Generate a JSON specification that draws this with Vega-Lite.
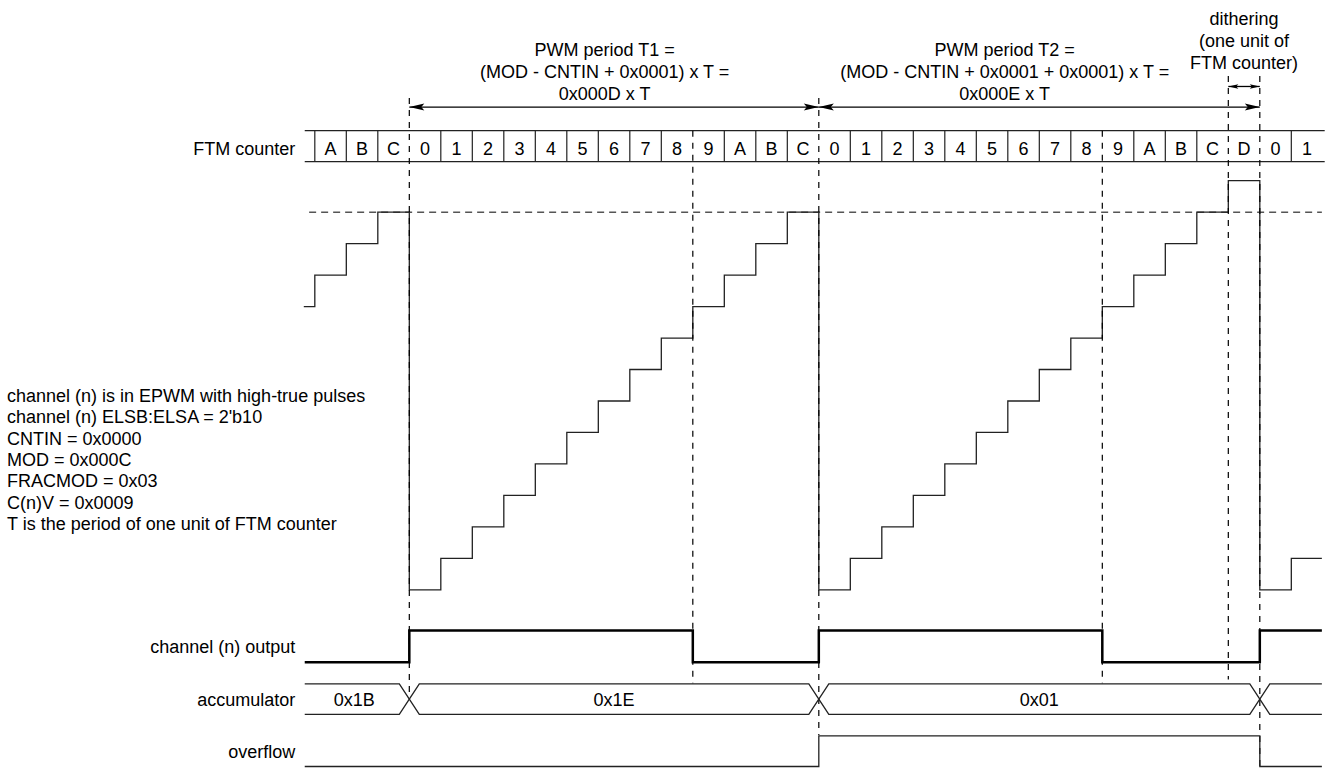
{
  "$schema": "https://vega.github.io/schema/vega-lite/v6.json",
  "width": 1327,
  "height": 770,
  "padding": 0,
  "autosize": {"type": "fit", "contains": "padding"},
  "background": "white",
  "config": {"view": {"stroke": null}},
  "datasets": {
    "ramp": [
      {"t": -3.35, "v": 9}, {"t": -3, "v": 10}, {"t": -2, "v": 11}, {"t": -1, "v": 12},
      {"t": 0, "v": 0}, {"t": 1, "v": 1}, {"t": 2, "v": 2}, {"t": 3, "v": 3}, {"t": 4, "v": 4},
      {"t": 5, "v": 5}, {"t": 6, "v": 6}, {"t": 7, "v": 7}, {"t": 8, "v": 8}, {"t": 9, "v": 9},
      {"t": 10, "v": 10}, {"t": 11, "v": 11}, {"t": 12, "v": 12},
      {"t": 13, "v": 0}, {"t": 14, "v": 1}, {"t": 15, "v": 2}, {"t": 16, "v": 3}, {"t": 17, "v": 4},
      {"t": 18, "v": 5}, {"t": 19, "v": 6}, {"t": 20, "v": 7}, {"t": 21, "v": 8}, {"t": 22, "v": 9},
      {"t": 23, "v": 10}, {"t": 24, "v": 11}, {"t": 25, "v": 12}, {"t": 26, "v": 13},
      {"t": 27, "v": 0}, {"t": 28, "v": 1}, {"t": 28.97, "v": 1}
    ],
    "threshold": [
      {"t": -3.18, "t2": 28.97, "v": 12, "v2": 12}
    ],
    "guides": [
      {"t": 0, "t2": 0, "v": 15.63, "v2": -3.445},
      {"t": 9, "t2": 9, "v": 14.59, "v2": -2.97},
      {"t": 13, "t2": 13, "v": 15.63, "v2": -4.618},
      {"t": 22, "t2": 22, "v": 14.59, "v2": -2.97},
      {"t": 26, "t2": 26, "v": 16.33, "v2": -2.85},
      {"t": 27, "t2": 27, "v": 16.33, "v2": -5.6}
    ],
    "box": [
      {"t": -3.32, "t2": 29.06, "v": 14.59, "v2": 14.59},
      {"t": -3.32, "t2": 29.06, "v": 13.607, "v2": 13.607},
      {"t": -3, "t2": -3, "v": 13.607, "v2": 14.59},
      {"t": -2, "t2": -2, "v": 13.607, "v2": 14.59},
      {"t": -1, "t2": -1, "v": 13.607, "v2": 14.59},
      {"t": 1, "t2": 1, "v": 13.607, "v2": 14.59},
      {"t": 2, "t2": 2, "v": 13.607, "v2": 14.59},
      {"t": 3, "t2": 3, "v": 13.607, "v2": 14.59},
      {"t": 4, "t2": 4, "v": 13.607, "v2": 14.59},
      {"t": 5, "t2": 5, "v": 13.607, "v2": 14.59},
      {"t": 6, "t2": 6, "v": 13.607, "v2": 14.59},
      {"t": 7, "t2": 7, "v": 13.607, "v2": 14.59},
      {"t": 8, "t2": 8, "v": 13.607, "v2": 14.59},
      {"t": 10, "t2": 10, "v": 13.607, "v2": 14.59},
      {"t": 11, "t2": 11, "v": 13.607, "v2": 14.59},
      {"t": 12, "t2": 12, "v": 13.607, "v2": 14.59},
      {"t": 14, "t2": 14, "v": 13.607, "v2": 14.59},
      {"t": 15, "t2": 15, "v": 13.607, "v2": 14.59},
      {"t": 16, "t2": 16, "v": 13.607, "v2": 14.59},
      {"t": 17, "t2": 17, "v": 13.607, "v2": 14.59},
      {"t": 18, "t2": 18, "v": 13.607, "v2": 14.59},
      {"t": 19, "t2": 19, "v": 13.607, "v2": 14.59},
      {"t": 20, "t2": 20, "v": 13.607, "v2": 14.59},
      {"t": 21, "t2": 21, "v": 13.607, "v2": 14.59},
      {"t": 23, "t2": 23, "v": 13.607, "v2": 14.59},
      {"t": 24, "t2": 24, "v": 13.607, "v2": 14.59},
      {"t": 25, "t2": 25, "v": 13.607, "v2": 14.59},
      {"t": 28, "t2": 28, "v": 13.607, "v2": 14.59}
    ],
    "output": [
      {"t": -3.32, "v": -2.304}, {"t": 0, "v": -1.29}, {"t": 9, "v": -2.304},
      {"t": 13, "v": -1.29}, {"t": 22, "v": -2.304}, {"t": 27, "v": -1.29}, {"t": 28.97, "v": -1.29}
    ],
    "overflow": [
      {"t": -3.32, "v": -5.616}, {"t": 13, "v": -4.64}, {"t": 27, "v": -5.616}, {"t": 28.97, "v": -5.616}
    ],
    "accumulator": [
      {"seg": "a0t", "i": 0, "t": -3.32, "v": -2.992}, {"seg": "a0t", "i": 1, "t": -0.317, "v": -2.992}, {"seg": "a0t", "i": 2, "t": 0, "v": -3.477},
      {"seg": "a0b", "i": 0, "t": -3.32, "v": -3.962}, {"seg": "a0b", "i": 1, "t": -0.317, "v": -3.962}, {"seg": "a0b", "i": 2, "t": 0, "v": -3.477},
      {"seg": "a1t", "i": 0, "t": 0, "v": -3.477}, {"seg": "a1t", "i": 1, "t": 0.317, "v": -2.992}, {"seg": "a1t", "i": 2, "t": 12.683, "v": -2.992}, {"seg": "a1t", "i": 3, "t": 13, "v": -3.477},
      {"seg": "a1b", "i": 0, "t": 0, "v": -3.477}, {"seg": "a1b", "i": 1, "t": 0.317, "v": -3.962}, {"seg": "a1b", "i": 2, "t": 12.683, "v": -3.962}, {"seg": "a1b", "i": 3, "t": 13, "v": -3.477},
      {"seg": "a2t", "i": 0, "t": 13, "v": -3.477}, {"seg": "a2t", "i": 1, "t": 13.317, "v": -2.992}, {"seg": "a2t", "i": 2, "t": 26.683, "v": -2.992}, {"seg": "a2t", "i": 3, "t": 27, "v": -3.477},
      {"seg": "a2b", "i": 0, "t": 13, "v": -3.477}, {"seg": "a2b", "i": 1, "t": 13.317, "v": -3.962}, {"seg": "a2b", "i": 2, "t": 26.683, "v": -3.962}, {"seg": "a2b", "i": 3, "t": 27, "v": -3.477},
      {"seg": "a3t", "i": 0, "t": 27, "v": -3.477}, {"seg": "a3t", "i": 1, "t": 27.317, "v": -2.992}, {"seg": "a3t", "i": 2, "t": 28.97, "v": -2.992},
      {"seg": "a3b", "i": 0, "t": 27, "v": -3.477}, {"seg": "a3b", "i": 1, "t": 27.317, "v": -3.962}, {"seg": "a3b", "i": 2, "t": 28.97, "v": -3.962}
    ],
    "arrowLines": [
      {"t": 0, "t2": 13, "v": 15.341, "v2": 15.341},
      {"t": 13, "t2": 27, "v": 15.341, "v2": 15.341},
      {"t": 26, "t2": 27, "v": 15.994, "v2": 15.994}
    ],
    "bigHeads": [
      {"t": 0, "v": 15.341, "dir": "L"}, {"t": 13, "v": 15.341, "dir": "R"},
      {"t": 13, "v": 15.341, "dir": "L"}, {"t": 27, "v": 15.341, "dir": "R"}
    ],
    "smallHeads": [
      {"t": 26, "v": 15.994, "dir": "L"}, {"t": 27, "v": 15.994, "dir": "R"}
    ],
    "centerText": [
      {"t": -2.5, "v": 13.81, "label": "A"}, {"t": -1.5, "v": 13.81, "label": "B"}, {"t": -0.5, "v": 13.81, "label": "C"},
      {"t": 0.5, "v": 13.81, "label": "0"}, {"t": 1.5, "v": 13.81, "label": "1"}, {"t": 2.5, "v": 13.81, "label": "2"},
      {"t": 3.5, "v": 13.81, "label": "3"}, {"t": 4.5, "v": 13.81, "label": "4"}, {"t": 5.5, "v": 13.81, "label": "5"},
      {"t": 6.5, "v": 13.81, "label": "6"}, {"t": 7.5, "v": 13.81, "label": "7"}, {"t": 8.5, "v": 13.81, "label": "8"},
      {"t": 9.5, "v": 13.81, "label": "9"}, {"t": 10.5, "v": 13.81, "label": "A"}, {"t": 11.5, "v": 13.81, "label": "B"},
      {"t": 12.5, "v": 13.81, "label": "C"},
      {"t": 13.5, "v": 13.81, "label": "0"}, {"t": 14.5, "v": 13.81, "label": "1"}, {"t": 15.5, "v": 13.81, "label": "2"},
      {"t": 16.5, "v": 13.81, "label": "3"}, {"t": 17.5, "v": 13.81, "label": "4"}, {"t": 18.5, "v": 13.81, "label": "5"},
      {"t": 19.5, "v": 13.81, "label": "6"}, {"t": 20.5, "v": 13.81, "label": "7"}, {"t": 21.5, "v": 13.81, "label": "8"},
      {"t": 22.5, "v": 13.81, "label": "9"}, {"t": 23.5, "v": 13.81, "label": "A"}, {"t": 24.5, "v": 13.81, "label": "B"},
      {"t": 25.5, "v": 13.81, "label": "C"}, {"t": 26.5, "v": 13.81, "label": "D"},
      {"t": 27.5, "v": 13.81, "label": "0"}, {"t": 28.5, "v": 13.81, "label": "1"},
      {"t": -1.75, "v": -3.683, "label": "0x1B"}, {"t": 6.5, "v": -3.683, "label": "0x1E"}, {"t": 20, "v": -3.683, "label": "0x01"},
      {"t": 6.2, "v": 16.967, "label": "PWM period T1 ="},
      {"t": 6.2, "v": 16.27, "label": "(MOD - CNTIN + 0x0001) x T ="},
      {"t": 6.2, "v": 15.572, "label": "0x000D x T"},
      {"t": 18.9, "v": 16.967, "label": "PWM period T2 ="},
      {"t": 18.9, "v": 16.27, "label": "(MOD - CNTIN + 0x0001 + 0x0001) x T ="},
      {"t": 18.9, "v": 15.572, "label": "0x000E x T"},
      {"t": 26.5, "v": 17.949, "label": "dithering"},
      {"t": 26.5, "v": 17.252, "label": "(one unit of"},
      {"t": 26.5, "v": 16.555, "label": "FTM counter)"}
    ],
    "rowLabels": [
      {"t": -3.62, "v": 13.81, "label": "FTM counter"},
      {"t": -3.62, "v": -2.003, "label": "channel (n) output"},
      {"t": -3.62, "v": -3.683, "label": "accumulator"},
      {"t": -3.62, "v": -5.331, "label": "overflow"}
    ],
    "notes": [
      {"t": -12.771, "v": 5.952, "label": "channel (n) is in EPWM with high-true pulses"},
      {"t": -12.771, "v": 5.287, "label": "channel (n) ELSB:ELSA = 2'b10"},
      {"t": -12.771, "v": 4.59, "label": "CNTIN = 0x0000"},
      {"t": -12.771, "v": 3.924, "label": "MOD = 0x000C"},
      {"t": -12.771, "v": 3.258, "label": "FRACMOD = 0x03"},
      {"t": -12.771, "v": 2.561, "label": "C(n)V = 0x0009"},
      {"t": -12.771, "v": 1.895, "label": "T is the period of one unit of FTM counter"}
    ]
  },
  "encoding": {
    "x": {"field": "t", "type": "quantitative", "scale": {"domain": [-12.994, 29.133], "nice": false, "zero": false}, "axis": null},
    "y": {"field": "v", "type": "quantitative", "scale": {"domain": [-5.663, 18.742], "nice": false, "zero": false}, "axis": null}
  },
  "layer": [
    {
      "data": {"name": "threshold"},
      "mark": {"type": "rule", "color": "#555555", "strokeWidth": 1.5, "strokeDash": [7, 5]},
      "encoding": {"x2": {"field": "t2"}, "y2": {"field": "v2"}}
    },
    {
      "data": {"name": "box"},
      "mark": {"type": "rule", "color": "#222222", "strokeWidth": 1.2},
      "encoding": {"x2": {"field": "t2"}, "y2": {"field": "v2"}}
    },
    {
      "data": {"name": "ramp"},
      "mark": {"type": "line", "interpolate": "step-after", "color": "#222222", "strokeWidth": 1.3}
    },
    {
      "data": {"name": "guides"},
      "mark": {"type": "rule", "color": "#000000", "strokeWidth": 1.2, "strokeDash": [6, 6]},
      "encoding": {"x2": {"field": "t2"}, "y2": {"field": "v2"}}
    },
    {
      "data": {"name": "output"},
      "mark": {"type": "line", "interpolate": "step-after", "color": "#000000", "strokeWidth": 2.5}
    },
    {
      "data": {"name": "overflow"},
      "mark": {"type": "line", "interpolate": "step-after", "color": "#222222", "strokeWidth": 1.3}
    },
    {
      "data": {"name": "accumulator"},
      "mark": {"type": "line", "color": "#222222", "strokeWidth": 1.3},
      "encoding": {"detail": {"field": "seg", "type": "nominal"}, "order": {"field": "i", "type": "quantitative"}}
    },
    {
      "data": {"name": "arrowLines"},
      "mark": {"type": "rule", "color": "#000000", "strokeWidth": 1.3},
      "encoding": {"x2": {"field": "t2"}, "y2": {"field": "v2"}}
    },
    {
      "data": {"name": "bigHeads"},
      "mark": {"type": "point", "filled": true, "color": "#000000", "opacity": 1, "size": 225, "strokeWidth": 0},
      "encoding": {"shape": {"field": "dir", "type": "nominal", "scale": {"domain": ["L", "R"], "range": ["M0,0L2,-0.47L1.6,0L2,0.47Z", "M0,0L-2,-0.47L-1.6,0L-2,0.47Z"]}, "legend": null}}
    },
    {
      "data": {"name": "smallHeads"},
      "mark": {"type": "point", "filled": true, "color": "#000000", "opacity": 1, "size": 100, "strokeWidth": 0},
      "encoding": {"shape": {"field": "dir", "type": "nominal", "scale": {"domain": ["L", "R"], "range": ["M0,0L2,-0.47L1.6,0L2,0.47Z", "M0,0L-2,-0.47L-1.6,0L-2,0.47Z"]}, "legend": null}}
    },
    {
      "data": {"name": "centerText"},
      "mark": {"type": "text", "align": "center", "baseline": "alphabetic", "font": "Liberation Sans", "fontSize": 18, "color": "#000000"},
      "encoding": {"text": {"field": "label", "type": "nominal"}}
    },
    {
      "data": {"name": "rowLabels"},
      "mark": {"type": "text", "align": "right", "baseline": "alphabetic", "font": "Liberation Sans", "fontSize": 18, "color": "#000000"},
      "encoding": {"text": {"field": "label", "type": "nominal"}}
    },
    {
      "data": {"name": "notes"},
      "mark": {"type": "text", "align": "left", "baseline": "alphabetic", "font": "Liberation Sans", "fontSize": 18, "color": "#000000"},
      "encoding": {"text": {"field": "label", "type": "nominal"}}
    }
  ]
}
